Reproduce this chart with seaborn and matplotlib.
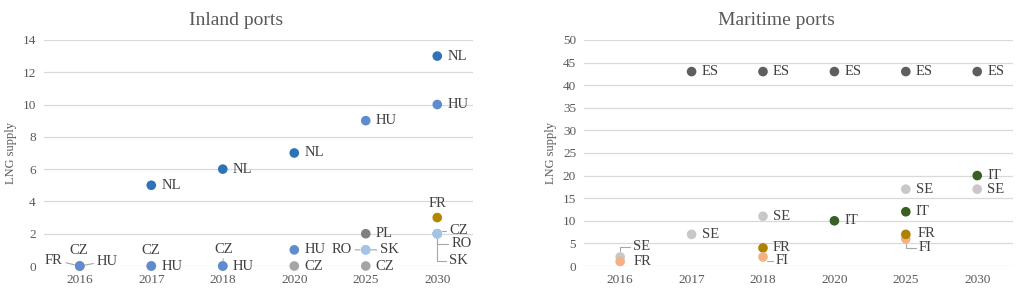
import matplotlib
matplotlib.use("Agg")
import pandas as pd
import matplotlib.pyplot as plt
import seaborn as sns

# categories on the x axis
years = ["2016", "2017", "2018", "2020", "2025", "2030"]

# Inland ports
inland_year = ["2016", "2016", "2016", "2017", "2017", "2017", "2018", "2018", "2018",
               "2020", "2020", "2020", "2025", "2025", "2025", "2025", "2025",
               "2030", "2030", "2030", "2030", "2030", "2030"]
inland_country = ["FR", "CZ", "HU", "NL", "CZ", "HU", "NL", "CZ", "HU",
                  "NL", "HU", "CZ", "HU", "PL", "RO", "SK", "CZ",
                  "NL", "HU", "FR", "CZ", "RO", "SK"]
inland_value = [0, 0, 0, 5, 0, 0, 6, 0, 0,
                7, 1, 0, 9, 2, 1, 1, 0,
                13, 10, 3, 2, 2, 2]

# Maritime ports
mar_year = ["2016", "2016", "2017", "2017", "2018", "2018", "2018", "2018",
            "2020", "2020", "2025", "2025", "2025", "2025", "2025",
            "2030", "2030", "2030"]
mar_country = ["SE", "FR", "ES", "SE", "ES", "SE", "FR", "FI",
               "ES", "IT", "ES", "SE", "IT", "FI", "FR",
               "ES", "IT", "SE"]
mar_value = [2, 1, 43, 7, 43, 11, 4, 2,
             43, 10, 43, 17, 12, 6, 7,
             43, 20, 17]

inland_colors = {"NL": "#2E72B8", "HU": "#5E8BD2", "CZ": "#A5A5A5", "FR": "#B38600",
                 "PL": "#7F7F7F", "RO": "#A3C4E8", "SK": "#A3C4E8"}
mar_colors = {"ES": "#5E5E5E", "SE": "#C8C8C8", "FR": "#AE8200", "FI": "#F4B183",
              "IT": "#3A5F22"}

# label placement (pixels offset, alignment, leader line style)
STRAIGHT = "arc3"
ELBOW = "angle,angleA=0,angleB=90,rad=0"
inland_labels = {
    ("2016", "FR"): (-17, 6, "right", STRAIGHT),
    ("2016", "CZ"): (-1, 16, "center", None),
    ("2016", "HU"): (17, 5, "left", STRAIGHT),
    ("2017", "CZ"): (-1, 16, "center", None),
    ("2018", "CZ"): (1, 17, "center", STRAIGHT),
    ("2025", "RO"): (-14, 0, "right", STRAIGHT),
    ("2025", "SK"): (14, 0, "left", STRAIGHT),
    ("2030", "FR"): (0, 14, "center", None),
    ("2030", "CZ"): (12, 3, "left", ELBOW),
    ("2030", "RO"): (14, -10, "left", ELBOW),
    ("2030", "SK"): (12, -27, "left", ELBOW),
}
mar_labels = {
    ("2016", "SE"): (13, 10, "left", ELBOW),
    ("2016", "FR"): (13, 0, "left", None),
    ("2018", "FI"): (13, -4, "left", ELBOW),
    ("2025", "FI"): (13, -9, "left", ELBOW),
    ("2025", "FR"): (12, 1, "left", None),
}

sns.set_style("white")
plt.rcParams["font.family"] = ["Liberation Serif", "DejaVu Serif"]
TXT = "#595959"


def draw_panel(ax, year, country, value, colors, labels, title, ymax, ystep):
    df = pd.DataFrame({"year": year, "country": country, "value": value})
    df["x"] = df["year"].map(years.index)
    hue = df["country"].copy()
    if title.startswith("Maritime"):
        # the 2016 FR dot is drawn in the FI colour in the original
        hue[(df["year"] == "2016") & (df["country"] == "FR")] = "FI"
    df["hue"] = hue
    sns.scatterplot(data=df, x="x", y="value", hue="hue", palette=colors,
                    s=48, linewidth=0, legend=False, ax=ax, zorder=3)
    ax.collections[-1].set_clip_on(False)

    for _, r in df.iterrows():
        dx, dy, ha, lead = labels.get((r.year, r.country), (10, 0, "left", None))
        kw = {}
        if lead:
            kw["arrowprops"] = dict(arrowstyle="-", color="#A6A6A6", lw=0.8,
                                    shrinkA=0, shrinkB=4, connectionstyle=lead)
        ax.annotate(r.country, (r.x, r.value), xytext=(dx, dy),
                    textcoords="offset pixels", ha=ha, va="center",
                    fontsize=10.5, color="#404040", annotation_clip=False, **kw)

    ax.set_xlim(-0.5, len(years) - 0.5)
    ax.set_ylim(0, ymax)
    ax.set_xticks(range(len(years)))
    ax.set_xticklabels(years)
    ax.set_yticks(range(0, ymax + 1, ystep))
    ax.set_axisbelow(True)
    ax.yaxis.grid(True, color="#D9D9D9", lw=0.9)
    ax.xaxis.grid(False)
    sns.despine(ax=ax, left=True, bottom=True)
    ax.tick_params(length=0, labelsize=9.5, colors=TXT, pad=6)
    ax.set_xlabel("")
    ax.set_ylabel("LNG supply", fontsize=9, color=TXT)
    ax.set_title(title, fontsize=14, color=TXT, x=0.448, pad=11)


fig = plt.figure(figsize=(10.17, 2.94), dpi=100)
ax1 = fig.add_axes([0.0433, 0.0952, 0.4218, 0.769])
ax2 = fig.add_axes([0.5747, 0.0952, 0.4213, 0.769])

draw_panel(ax1, inland_year, inland_country, inland_value, inland_colors,
           inland_labels, "Inland ports", 14, 2)
draw_panel(ax2, mar_year, mar_country, mar_value, mar_colors,
           mar_labels, "Maritime ports", 50, 5)
ax1.yaxis.labelpad = 4
ax2.yaxis.labelpad = 4

fig.savefig("out.png", dpi=100)
